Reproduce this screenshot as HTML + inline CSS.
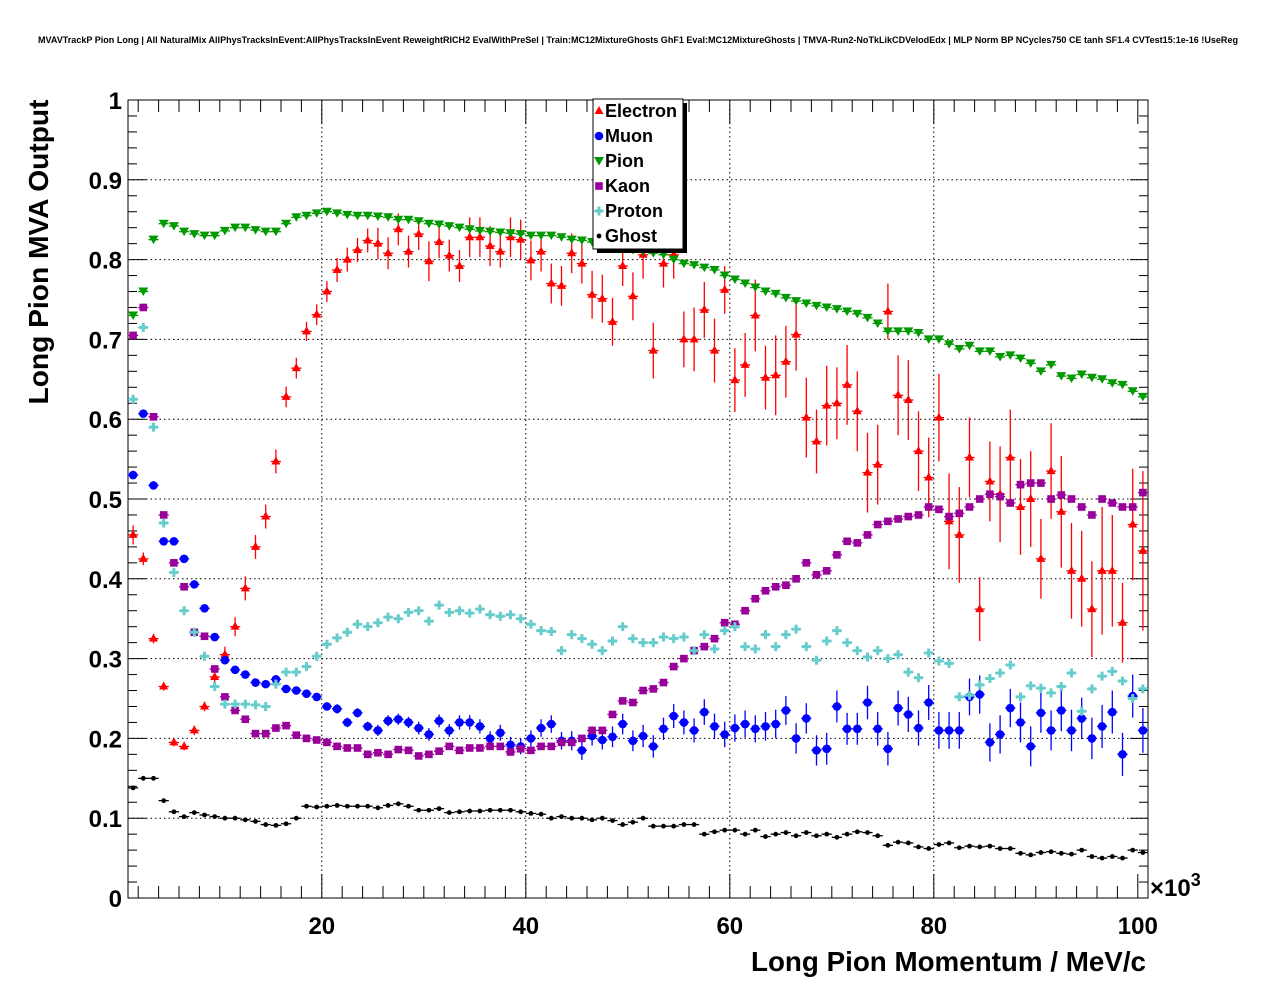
<!DOCTYPE html>
<html><head><meta charset="utf-8"><style>
body{margin:0;background:#fff;}
svg{display:block;font-family:"Liberation Sans",sans-serif;}
</style></head><body>
<svg id="chart" width="1276" height="996" viewBox="0 0 1276 996">
<rect x="0" y="0" width="1276" height="996" fill="#fff"/>
<text x="638" y="43" font-size="9.1" font-weight="bold" text-anchor="middle" textLength="1200" lengthAdjust="spacingAndGlyphs">MVAVTrackP Pion Long | All NaturalMix AllPhysTracksInEvent:AllPhysTracksInEvent ReweightRICH2 EvalWithPreSel | Train:MC12MixtureGhosts GhF1 Eval:MC12MixtureGhosts | TMVA-Run2-NoTkLikCDVelodEdx | MLP Norm BP NCycles750 CE tanh SF1.4 CVTest15:1e-16 !UseReg</text>
<g id="grid"></g>
<g id="axes"></g>
<g id="marks"></g>
<text x="48" y="252" font-size="27.5" font-weight="bold" text-anchor="middle" textLength="305" lengthAdjust="spacingAndGlyphs" transform="rotate(-90 48 252)">Long Pion MVA Output</text>
<text x="1146" y="971" font-size="27.5" font-weight="bold" text-anchor="end" textLength="395" lengthAdjust="spacingAndGlyphs">Long Pion Momentum / MeV/c</text>
<text x="1150" y="896" font-size="24" font-weight="bold">×10<tspan dy="-10" font-size="18">3</tspan></text>
<g>
<rect x="597" y="103" width="90" height="150" fill="#000"/>
<rect x="593" y="99" width="90" height="150" fill="#fff" stroke="#000" stroke-width="1"/>
<g id="legend-entries"></g>
</g>
</svg>
<script>
const categories=["Electron","Muon","Pion","Kaon","Proton","Ghost"];
const xTicks=[20,40,60,80,100];
const xTickLabels=["20","40","60","80","100"];
const yTicks=[0,0.1,0.2,0.3,0.4,0.5,0.6,0.7,0.8,0.9,1];
const yTickLabels=["0","0.1","0.2","0.3","0.4","0.5","0.6","0.7","0.8","0.9","1"];
const electron=[0.455,0.425,0.325,0.265,0.195,0.19,0.21,0.24,0.277,0.305,0.34,0.388,0.44,0.478,0.547,0.628,0.664,0.71,0.731,0.76,0.787,0.8,0.812,0.824,0.82,0.808,0.838,0.81,0.832,0.798,0.822,0.805,0.792,0.828,0.828,0.817,0.81,0.828,0.825,0.799,0.81,0.77,0.767,0.808,0.795,0.756,0.751,0.722,0.792,0.754,0.806,0.686,0.795,0.806,0.70,0.70,0.737,0.686,0.762,0.649,0.668,0.73,0.652,0.655,0.672,0.706,0.602,0.572,0.617,0.62,0.643,0.61,0.533,0.543,0.735,0.63,0.624,0.56,0.527,0.602,0.472,0.455,0.552,0.362,0.522,0.506,0.552,0.49,0.50,0.425,0.535,0.484,0.41,0.40,0.362,0.41,0.41,0.345,0.468,0.435];
const electronErr=[0.012,0.008,0.006,0.005,0.005,0.005,0.006,0.006,0.008,0.01,0.012,0.015,0.015,0.015,0.015,0.013,0.013,0.012,0.013,0.013,0.015,0.015,0.015,0.015,0.02,0.02,0.02,0.02,0.02,0.025,0.02,0.02,0.02,0.025,0.025,0.025,0.02,0.025,0.025,0.025,0.025,0.025,0.025,0.025,0.025,0.03,0.03,0.03,0.025,0.03,0.03,0.035,0.03,0.03,0.035,0.04,0.035,0.04,0.03,0.04,0.04,0.045,0.04,0.05,0.045,0.045,0.05,0.04,0.05,0.045,0.05,0.05,0.05,0.05,0.035,0.05,0.05,0.05,0.05,0.055,0.06,0.06,0.05,0.04,0.05,0.06,0.06,0.06,0.06,0.05,0.06,0.07,0.06,0.06,0.06,0.08,0.07,0.05,0.07,0.1];
const muon=[0.53,0.607,0.517,0.447,0.447,0.425,0.393,0.363,0.327,0.298,0.286,0.28,0.27,0.268,0.274,0.262,0.26,0.256,0.252,0.24,0.237,0.22,0.232,0.215,0.21,0.222,0.224,0.22,0.213,0.205,0.222,0.21,0.22,0.22,0.215,0.2,0.207,0.192,0.19,0.2,0.213,0.218,0.197,0.197,0.185,0.203,0.198,0.202,0.218,0.197,0.203,0.19,0.212,0.228,0.22,0.21,0.233,0.215,0.205,0.213,0.218,0.212,0.215,0.218,0.235,0.2,0.225,0.185,0.187,0.24,0.212,0.212,0.245,0.212,0.187,0.238,0.23,0.213,0.245,0.21,0.21,0.21,0.252,0.255,0.195,0.205,0.238,0.22,0.19,0.232,0.21,0.235,0.21,0.225,0.2,0.215,0.233,0.18,0.253,0.21];
const muonErr=[0.004,0.004,0.004,0.004,0.004,0.004,0.004,0.004,0.004,0.004,0.004,0.004,0.004,0.004,0.005,0.005,0.005,0.005,0.005,0.005,0.006,0.006,0.006,0.006,0.007,0.007,0.007,0.007,0.008,0.008,0.008,0.008,0.009,0.009,0.009,0.009,0.01,0.01,0.01,0.01,0.011,0.011,0.011,0.012,0.012,0.012,0.012,0.013,0.013,0.013,0.014,0.014,0.014,0.015,0.015,0.015,0.016,0.016,0.016,0.017,0.017,0.017,0.018,0.018,0.018,0.019,0.019,0.019,0.02,0.02,0.02,0.02,0.021,0.021,0.021,0.022,0.022,0.022,0.022,0.023,0.023,0.023,0.023,0.024,0.024,0.024,0.024,0.025,0.025,0.025,0.025,0.026,0.026,0.026,0.026,0.027,0.027,0.027,0.027,0.028];
const pion=[0.73,0.76,0.825,0.845,0.842,0.835,0.832,0.83,0.83,0.836,0.84,0.84,0.837,0.835,0.835,0.845,0.853,0.855,0.858,0.86,0.858,0.856,0.855,0.855,0.854,0.853,0.85,0.85,0.848,0.845,0.844,0.842,0.84,0.838,0.836,0.835,0.834,0.833,0.832,0.83,0.83,0.83,0.828,0.825,0.824,0.822,0.82,0.818,0.815,0.812,0.81,0.808,0.806,0.8,0.795,0.793,0.79,0.787,0.78,0.775,0.77,0.765,0.76,0.757,0.752,0.748,0.745,0.742,0.74,0.738,0.735,0.732,0.727,0.72,0.71,0.71,0.71,0.708,0.70,0.70,0.694,0.688,0.692,0.685,0.685,0.678,0.68,0.676,0.67,0.66,0.668,0.654,0.651,0.656,0.652,0.65,0.645,0.643,0.635,0.628];
const kaon=[0.705,0.74,0.603,0.48,0.42,0.39,0.333,0.328,0.287,0.252,0.235,0.224,0.206,0.206,0.213,0.216,0.204,0.2,0.198,0.195,0.19,0.188,0.188,0.18,0.182,0.18,0.186,0.185,0.178,0.18,0.184,0.19,0.185,0.188,0.188,0.19,0.19,0.183,0.187,0.185,0.19,0.19,0.195,0.195,0.2,0.21,0.21,0.23,0.247,0.245,0.26,0.262,0.27,0.29,0.3,0.31,0.315,0.325,0.345,0.343,0.36,0.375,0.385,0.39,0.392,0.4,0.42,0.405,0.41,0.43,0.447,0.445,0.455,0.468,0.472,0.475,0.478,0.48,0.49,0.487,0.478,0.482,0.49,0.5,0.506,0.503,0.495,0.518,0.52,0.52,0.5,0.505,0.5,0.49,0.48,0.5,0.495,0.49,0.49,0.508];
const proton=[0.625,0.715,0.59,0.47,0.408,0.36,0.333,0.303,0.265,0.243,0.243,0.243,0.242,0.24,0.268,0.283,0.283,0.29,0.303,0.318,0.326,0.333,0.343,0.34,0.345,0.352,0.35,0.358,0.36,0.347,0.367,0.358,0.36,0.357,0.362,0.355,0.353,0.355,0.35,0.343,0.335,0.334,0.31,0.33,0.325,0.318,0.31,0.322,0.34,0.325,0.32,0.32,0.327,0.325,0.327,0.31,0.33,0.312,0.335,0.34,0.315,0.312,0.33,0.315,0.33,0.337,0.315,0.298,0.322,0.335,0.32,0.31,0.302,0.31,0.30,0.305,0.283,0.276,0.307,0.297,0.294,0.252,0.254,0.267,0.275,0.282,0.292,0.252,0.266,0.263,0.257,0.265,0.282,0.234,0.262,0.278,0.284,0.272,0.25,0.262];
const ghost=[0.138,0.15,0.15,0.122,0.108,0.102,0.107,0.104,0.102,0.1,0.1,0.098,0.096,0.092,0.091,0.093,0.1,0.115,0.114,0.115,0.116,0.115,0.115,0.115,0.113,0.116,0.118,0.115,0.11,0.11,0.112,0.107,0.108,0.109,0.109,0.11,0.11,0.11,0.108,0.106,0.105,0.1,0.102,0.1,0.1,0.098,0.1,0.097,0.092,0.095,0.1,0.09,0.09,0.09,0.092,0.092,0.08,0.083,0.085,0.085,0.08,0.085,0.077,0.08,0.082,0.078,0.082,0.078,0.08,0.076,0.08,0.083,0.082,0.078,0.066,0.07,0.069,0.064,0.062,0.067,0.069,0.063,0.065,0.064,0.065,0.062,0.062,0.056,0.054,0.057,0.058,0.056,0.055,0.06,0.052,0.05,0.052,0.05,0.06,0.057];

const NS="http://www.w3.org/2000/svg";
const L=128,R=1148,T=100,B=898,XMIN=1,XMAX=101;
function xs(v){return L+(v-XMIN)/(XMAX-XMIN)*(R-L);}
function ys(v){return B-v*(B-T);}
function mk(tag,attrs,parent){const e=document.createElementNS(NS,tag);for(const k in attrs)e.setAttribute(k,attrs[k]);parent.appendChild(e);return e;}
const grid=document.getElementById('grid'),axes=document.getElementById('axes'),marks=document.getElementById('marks');
yTicks.forEach(v=>{if(v>0&&v<1){const g=mk('line',{x1:L,x2:R,y1:ys(v),y2:ys(v),stroke:'#000','stroke-width':1,'stroke-dasharray':'1.5,3'},grid);

}});
xTicks.forEach(v=>{if(v<100){const g=mk('line',{x1:xs(v),x2:xs(v),y1:T,y2:B,stroke:'#000','stroke-width':1,'stroke-dasharray':'1.5,3'},grid);

}});
const fr=mk('rect',{x:L,y:T,width:R-L,height:B-T,fill:'none',stroke:'#000','stroke-width':1},axes);


for(let i=0;i<=50;i++){const v=i*0.02;const len=(i%5===0)?18:9;
mk('line',{x1:L,x2:L+len,y1:ys(v),y2:ys(v),stroke:'#000'},axes);
mk('line',{x1:R,x2:R-len,y1:ys(v),y2:ys(v),stroke:'#000'},axes);}
yTicks.forEach((v,i)=>{const t=mk('text',{x:L-6,y:ys(v)+9,'font-size':24,'font-weight':'bold','text-anchor':'end'},axes);t.textContent=yTickLabels[i];

});
for(let v=2;v<=100;v+=2){const len=(v%20===0)?24:12;
mk('line',{x1:xs(v),x2:xs(v),y1:B,y2:B-len,stroke:'#000'},axes);
mk('line',{x1:xs(v),x2:xs(v),y1:T,y2:T+len,stroke:'#000'},axes);}
xTicks.forEach((v,i)=>{const t=mk('text',{x:xs(v),y:B+36,'font-size':24,'font-weight':'bold','text-anchor':'middle'},axes);t.textContent=xTickLabels[i];

});

function marker(kind,cx,cy,col,parent){
 if(kind==='tu')return mk('polygon',{points:`${cx},${cy-5} ${cx-4.5},${cy+3} ${cx+4.5},${cy+3}`,fill:col},parent);
 if(kind==='td')return mk('polygon',{points:`${cx-5},${cy-4} ${cx+5},${cy-4} ${cx},${cy+4.5}`,fill:col},parent);
 if(kind==='c')return mk('circle',{cx:cx,cy:cy,r:4.3,fill:col},parent);
 if(kind==='s')return mk('rect',{x:cx-3.8,y:cy-3.8,width:7.6,height:7.6,fill:col},parent);
 if(kind==='p')return mk('path',{d:`M${cx-4.5},${cy}H${cx+4.5}M${cx},${cy-4.5}V${cy+4.5}`,stroke:col,'stroke-width':3},parent);
 return mk('circle',{cx:cx,cy:cy,r:2.4,fill:col},parent);
}
const series=[
 {name:'electron',vals:electron,err:electronErr,col:'#ff0000',kind:'tu'},
 {name:'muon',vals:muon,err:muonErr,col:'#0000ff',kind:'c'},
 {name:'pion',vals:pion,err:null,col:'#009900',kind:'td'},
 {name:'kaon',vals:kaon,err:null,col:'#990099',kind:'s'},
 {name:'proton',vals:proton,err:null,col:'#66cccc',kind:'p'},
 {name:'ghost',vals:ghost,err:null,col:'#000000',kind:'d'}];
series.forEach(s=>{
 const g=mk('g',{},marks);
 
 
 s.vals.forEach((v,i)=>{
  const xc=XMIN+0.5+i, cx=xs(xc), cy=ys(v);
  if(cy<T||cy>B)return;
  mk('line',{x1:xs(xc-0.5),x2:xs(xc+0.5),y1:cy,y2:cy,stroke:s.col,'stroke-width':1.3},g);
  if(s.err){mk('line',{x1:cx,x2:cx,y1:ys(v+s.err[i]),y2:ys(v-s.err[i]),stroke:s.col,'stroke-width':1.3},g);}
  const m=marker(s.kind,cx,cy,s.col,g);
  
  
 });
});
const le=document.getElementById('legend-entries');
categories.forEach((c,i)=>{const y=111+i*25;const s=series[i];
 const m=marker(s.kind,599,y,s.col,le);
 
 
 const t=mk('text',{x:605,y:y+6,'font-size':18,'font-weight':'bold'},le);t.textContent=c;
 
 
});
</script>
</body></html>
